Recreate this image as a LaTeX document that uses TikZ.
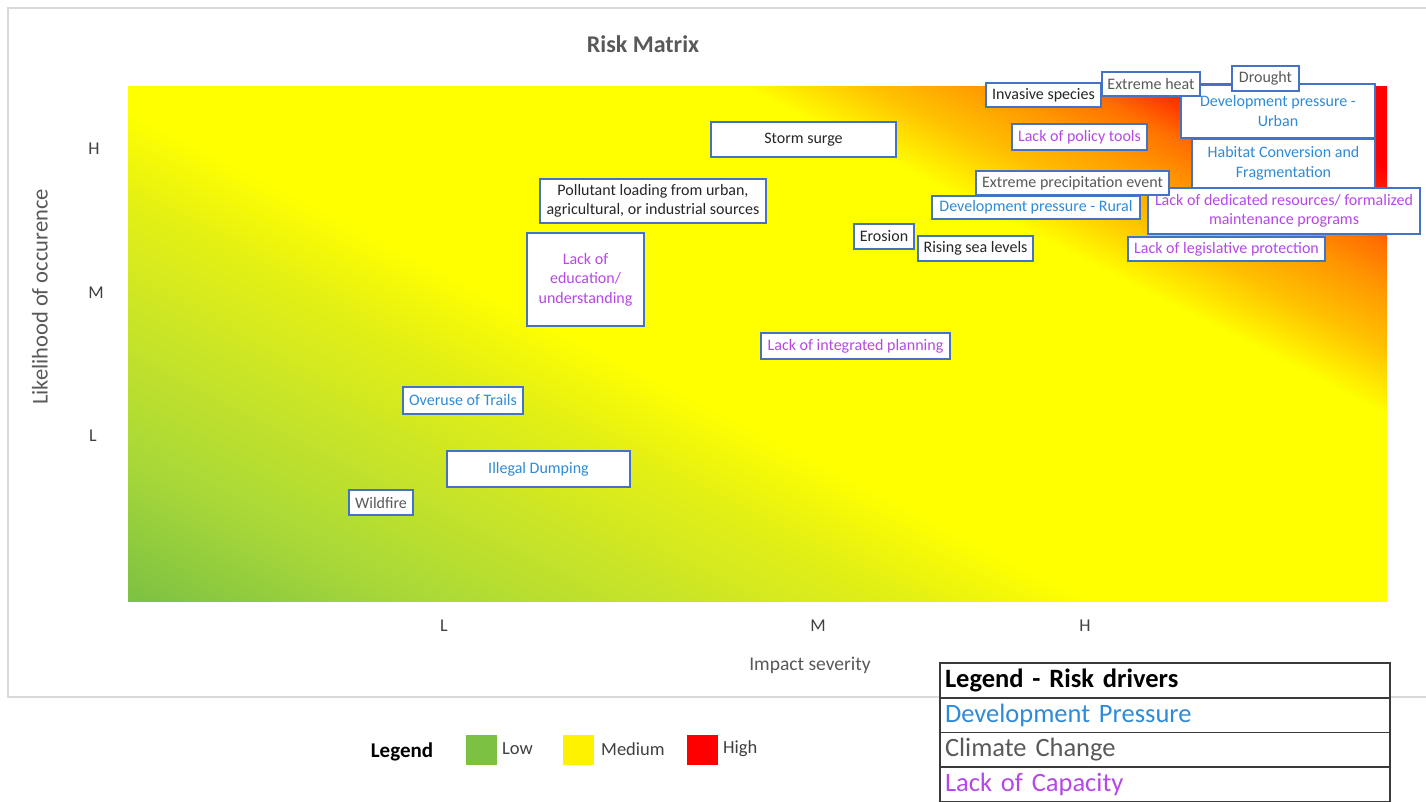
\documentclass[tikz,border=0pt]{standalone}
\usepackage{fontspec}
\setmainfont{Carlito}
\usepackage{graphicx}
\definecolor{boxblue}{HTML}{4472C4}
\definecolor{devblue}{HTML}{2E8BD8}
\definecolor{climgray}{HTML}{595959}
\definecolor{darktext}{HTML}{262626}
\definecolor{axistext}{HTML}{404040}
\definecolor{capurple}{HTML}{B548E6}
\definecolor{framegray}{HTML}{D9D9D9}
\definecolor{tblgray}{HTML}{3A3A3A}
\definecolor{lowgreen}{HTML}{7CC142}
\definecolor{gE}{HTML}{78BD44}
\definecolor{gD}{HTML}{7CC142}
\definecolor{gC}{HTML}{A8D838}
\definecolor{gB}{HTML}{C8E428}
\definecolor{gA}{HTML}{E4F014}
\definecolor{oA}{HTML}{FFC000}
\definecolor{oB}{HTML}{FF9800}
\definecolor{oC}{HTML}{FF7000}
\definecolor{oD}{HTML}{FF2800}
\pgfdeclareverticalshading{riskshade}{100bp}{color(0bp)=(gE); color(25bp)=(gE); color(26.92bp)=(gD); color(32.59bp)=(gC); color(37.95bp)=(gB); color(42.86bp)=(gA); color(46.43bp)=(yellow); color(59.82bp)=(yellow); color(62.5bp)=(oA); color(64.73bp)=(oB); color(66.52bp)=(oC); color(68.3bp)=(oD); color(69.64bp)=(red); color(100bp)=(red)}
\tikzset{
  riskbox/.style={draw=boxblue, line width=1.5pt, fill=white, inner sep=0pt, align=center,
    font=\fontsize{16}{19.5}\selectfont},
  devtxt/.style={text=devblue},
  climtxt/.style={text=climgray},
  darktxt/.style={text=darktext},
  captxt/.style={text=capurple},
  ticklabel/.style={font=\fontsize{18}{21}\selectfont, text=axistext},
  legsq/.style={minimum width=31pt, minimum height=30pt, inner sep=0pt},
  leglabel/.style={font=\fontsize{18.5}{22}\selectfont, text=axistext, anchor=west, inner sep=0pt},
  tblrow/.style={draw=tblgray, line width=1.3pt, fill=white, minimum height=35pt, text width=440pt,
    inner xsep=5pt, inner ysep=0pt, align=left, font=\fontsize{26.5}{30}\selectfont}
}
\begin{document}
\begin{tikzpicture}[x=1pt, y=-1pt]
\useasboundingbox (0,0) rectangle (1426,802);
\fill[white] (0,0) rectangle (1426,802);
% outer frame
\draw[framegray, line width=1.5pt] (1426,8) -- (8,8) -- (8,697) -- (1426,697);
% chart background
\begin{scope}
  \clip (128,87) rectangle (1387,601);
  \fill[yellow] (128,87) rectangle (1387,601);
  \begin{scope}[transform canvas={rotate around={-27:(757.5,344)}}]
    \shade[shading=riskshade] (-442.5,901.4) rectangle (1957.5,-218.6);
  \end{scope}
\end{scope}
% titles and axes
\node[font=\bfseries\fontsize{24}{28}\selectfont, text=climgray] (title) at (643,44) {Risk Matrix};
\node[rotate=90, font=\fontsize{22.5}{26}\selectfont, text=climgray] (ylab) at (40,297) {Likelihood of occurence};
\node[font=\fontsize{19.5}{23}\selectfont, text=climgray] (xlab) at (810,665) {Impact severity};
\node[ticklabel] (yH) at (94,149) {H};
\node[ticklabel] (yM) at (96,293) {M};
\node[ticklabel] (yL) at (93,436) {L};
\node[ticklabel] (xL) at (444,626) {L};
\node[ticklabel] (xM) at (818,626) {M};
\node[ticklabel] (xH) at (1085,626) {H};
% risk boxes
\node[riskbox, darktxt, minimum width=185pt, minimum height=35pt] (storm) at (803.5,139.5) {Storm surge};
\node[riskbox, darktxt, minimum width=226pt, minimum height=44pt] (pollutant) at (653,201) {Pollutant loading from urban,\\agricultural, or industrial sources};
\node[riskbox, captxt, minimum width=117pt, minimum height=93pt] (education) at (585.5,279.5) {Lack of\\education/\\understanding};
\node[riskbox, captxt, minimum width=189pt, minimum height=26pt] (integrated) at (855.5,346) {Lack of integrated planning};
\node[riskbox, devtxt, minimum width=120pt, minimum height=27pt] (overuse) at (463,400.5) {Overuse of Trails};
\node[riskbox, devtxt, minimum width=183pt, minimum height=36pt] (illegal) at (538.5,469) {Illegal Dumping};
\node[riskbox, climtxt, minimum width=64pt, minimum height=25pt] (wildfire) at (381,502.5) {Wildfire};
\node[riskbox, darktxt, minimum width=60pt, minimum height=25pt] (erosion) at (884,236.5) {Erosion};
\node[riskbox, darktxt, minimum width=115pt, minimum height=25pt] (rising) at (975.5,248.5) {Rising sea levels};
\node[riskbox, devtxt, minimum width=208pt, minimum height=23pt] (devrural) at (1036,207.5) {Development pressure - Rural};
\node[riskbox, captxt, minimum width=197pt, minimum height=24pt] (legislative) at (1226.5,249) {Lack of legislative protection};
\node[riskbox, captxt, minimum width=272pt, minimum height=46pt] (dedicated) at (1284,211) {Lack of dedicated resources/ formalized\\maintenance programs};
\node[riskbox, climtxt, minimum width=193pt, minimum height=24pt] (precip) at (1072.5,183) {Extreme precipitation event};
\node[riskbox, captxt, minimum width=135pt, minimum height=26pt] (policy) at (1079.5,137) {Lack of policy tools};
\node[riskbox, devtxt, minimum width=183pt, minimum height=49pt] (habitat) at (1283.5,163.5) {Habitat Conversion and\\Fragmentation};
\node[riskbox, devtxt, minimum width=194pt, minimum height=54pt] (devurban) at (1278,111) {Development pressure -\\Urban};
\node[riskbox, darktxt, minimum width=115pt, minimum height=24pt] (invasive) at (1043.5,95) {Invasive species};
\node[riskbox, climtxt, minimum width=98pt, minimum height=24pt] (heat) at (1151,84) {Extreme heat};
\node[riskbox, climtxt, minimum width=67pt, minimum height=25pt] (drought) at (1265.5,78.5) {Drought};
\draw[boxblue, line width=1.5pt] ([yshift=-1pt]heat.east) -- ([yshift=-1pt]heat.east -| drought.west);
% colour legend
\node[font=\bfseries\fontsize{21}{25}\selectfont, text=black] (legend) at (402,752) {Legend};
\node[legsq, fill=lowgreen] (lowsq) at (481,749.5) {};
\node[legsq, fill=yellow] (medsq) at (578,749.5) {};
\node[legsq, fill=red] (highsq) at (702.5,749.5) {};
\node[leglabel] (lowtxt) at (502,749) {Low};
\node[leglabel] (medtxt) at (601,749) {Medium};
\node[leglabel] (hightxt) at (723,749) {High};
% risk drivers table
\node[tblrow, text=black] (row1) at (1165,680.5) {\textbf{Legend - Risk drivers}};
\node[tblrow, text=devblue] (row2) at (1165,715.5) {Development Pressure};
\node[tblrow, text=climgray] (row3) at (1165,750) {Climate Change};
\node[tblrow, text=capurple] (row4) at (1165,784.5) {Lack of Capacity};
\end{tikzpicture}
\end{document}
